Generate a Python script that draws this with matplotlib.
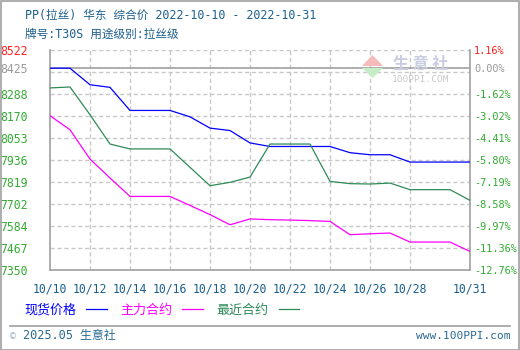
import matplotlib.pyplot as plt
import numpy as np
from matplotlib.lines import Line2D
from matplotlib.patches import Rectangle, Polygon

# ==============================
# DATA
# ==============================

dates = ["10/10", "10/11", "10/12", "10/13", "10/14", "10/15", "10/16",
         "10/17", "10/18", "10/19", "10/20", "10/21", "10/22", "10/23",
         "10/24", "10/25", "10/26", "10/27", "10/28", "10/29", "10/30", "10/31"]

spot = [8425, 8425, 8337, 8323, 8200, 8200, 8200,
        8166, 8106, 8093, 8027, 8008, 8008, 8008,
        8008, 7975, 7964, 7964, 7925, 7925, 7925, 7925]

main_contract = [8172, 8097, 7941, 7840, 7742, 7742, 7742,
                 7694, 7645, 7591, 7622, 7618, 7616, 7613,
                 7609, 7538, 7543, 7547, 7499, 7499, 7499, 7449]

near_contract = [8320, 8325, 8177, 8021, 7995, 7995, 7995,
                 7897, 7799, 7817, 7845, 8021, 8021, 8021,
                 7822, 7810, 7808, 7813, 7778, 7778, 7778, 7721]

base_price = 8425
y_ticks = [7350, 7467, 7584, 7702, 7819, 7936, 8053, 8170, 8288, 8425, 8522]
pct_labels = ["-12.76%", "-11.36%", "-9.97%", "-8.58%", "-7.19%", "-5.80%",
              "-4.41%", "-3.02%", "-1.62%", "0.00%", "1.16%"]
x_tick_idx = [0, 2, 4, 6, 8, 10, 12, 14, 16, 18, 21]

MONO = ["DejaVu Sans Mono", "Noto Sans CJK SC"]
CJK = ["Noto Sans CJK SC", "DejaVu Sans"]
TEXT_BLUE = "#1c5f8e"
TICK_GREEN = "#33aa33"
GRID = "#c8c8c8"
FRAME = "#a0a0a0"
LW = 0.9

W, H = 520, 350


def fx(x):
    return x / W


def fy(y):
    return 1 - y / H


# ==============================
# FIGURE
# ==============================

fig = plt.figure(figsize=(5.2, 3.5), dpi=100)
fig.patch.set_facecolor("white")

ax = fig.add_axes([fx(50), fy(270), 420 / W, 220 / H])
x = np.arange(len(dates))
ax.set_xlim(0, len(dates) - 1)
ax.set_ylim(7350, 8522)

# dashed grid
for g in np.linspace(7350, 8522, 11)[1:]:
    ax.axhline(g, color=GRID, lw=1, ls=(0, (3, 2)), zorder=1)
for i in range(2, 19, 2):
    ax.axvline(i, color=GRID, lw=1, ls=(0, (3, 2)), zorder=1)
ax.axhline(base_price, color=FRAME, lw=1.2, zorder=2)

ax.plot(x, spot, color="#0000ff", lw=LW, zorder=4)
ax.plot(x, main_contract, color="#ff00ff", lw=LW, zorder=4)
ax.plot(x, near_contract, color="#2e8b57", lw=LW, zorder=4)

for s in ["left", "bottom", "right"]:
    ax.spines[s].set_color(FRAME)
    ax.spines[s].set_linewidth(1.2)
ax.spines["top"].set_visible(False)

ax.set_xticks(x_tick_idx)
ax.set_xticklabels([dates[i] for i in x_tick_idx])
ax.tick_params(axis="x", length=0, pad=9, labelsize=8.3, labelcolor=TEXT_BLUE)
for t in ax.get_xticklabels():
    t.set_family(MONO)

ax.set_yticks(y_ticks)
ax.set_yticklabels([str(v) for v in y_ticks])
ax.tick_params(axis="y", length=0, pad=16, labelsize=8.3)
for t, v in zip(ax.get_yticklabels(), y_ticks):
    t.set_family(MONO)
    t.set_horizontalalignment("right")
    t.set_color("#ff2020" if v == 8522 else ("#999999" if v == base_price else TICK_GREEN))

ax2 = ax.twinx()
ax2.set_ylim(ax.get_ylim())
ax2.set_yticks(y_ticks)
ax2.set_yticklabels(pct_labels)
ax2.tick_params(axis="y", length=0, pad=3, labelsize=7.4)
for s in ax2.spines.values():
    s.set_visible(False)
for t, lab in zip(ax2.get_yticklabels(), pct_labels):
    t.set_family(MONO)
    t.set_color("#ff2020" if lab == "1.16%" else ("#999999" if lab == "0.00%" else TICK_GREEN))

# ==============================
# WATERMARK
# ==============================

fig.patches.append(Polygon([[fx(362), fy(66)], [fx(372.5), fy(55)], [fx(383), fy(66)]],
                           closed=True, transform=fig.transFigure,
                           facecolor="#f5baba", edgecolor="none", zorder=3))
fig.patches.append(Polygon([[fx(362), fy(68)], [fx(372.5), fy(78)], [fx(383), fy(68)]],
                           closed=True, transform=fig.transFigure,
                           facecolor="#c6eec6", edgecolor="none", zorder=3))
fig.text(fx(421), fy(64), "生 意 社", family=CJK, fontsize=11.5, color="#c9cde0",
         ha="center", va="center", weight="bold")
fig.text(fx(421), fy(80), "100PPI.COM", family=MONO, fontsize=6.8, color="#c9c9c9",
         ha="center", va="center")

# ==============================
# TITLE
# ==============================

fig.text(fx(25), fy(15), "PP(拉丝) 华东 综合价 2022-10-10 - 2022-10-31",
         family=MONO, fontsize=8.4, color=TEXT_BLUE, va="center")
fig.text(fx(25), fy(34), "牌号:T30S 用途级别:拉丝级",
         family=MONO, fontsize=8.4, color=TEXT_BLUE, va="center")

# ==============================
# LEGEND
# ==============================

handles = [Line2D([], [], color="#0000ff", lw=LW),
           Line2D([], [], color="#ff00ff", lw=LW),
           Line2D([], [], color="#2e8b57", lw=LW)]
leg = fig.legend(handles, ["现货价格", "主力合约", "最近合约"], ncol=3,
                 markerfirst=False, frameon=False, loc="center left",
                 bbox_to_anchor=(fx(24), fy(310)), handlelength=1.6,
                 handletextpad=0.75, columnspacing=1.05, borderpad=0,
                 borderaxespad=0, prop={"family": CJK, "size": 9.4},
                 labelcolor="linecolor")

# ==============================
# FOOTER
# ==============================

fig.add_artist(Line2D([fx(10), fx(510)], [fy(326), fy(326)], color=FRAME, lw=1.2))
fig.text(fx(10), fy(336), "©", family=MONO, fontsize=7, color="#9bb5cc", va="center")
fig.text(fx(23), fy(336), "2025.05 生意社", family=MONO, fontsize=8.6,
         color="#2a6a96", va="center")
fig.text(fx(510), fy(336), "www.100PPI.com", family=MONO, fontsize=8,
         color="#2a6a96", va="center", ha="right")

fig.patches.append(Rectangle((0.5 / W, 0.5 / H), 1 - 1.5 / W, 1 - 1.5 / H,
                             transform=fig.transFigure, fill=False,
                             edgecolor=FRAME, lw=1.2))

fig.savefig("out.png", dpi=100, facecolor="white")
